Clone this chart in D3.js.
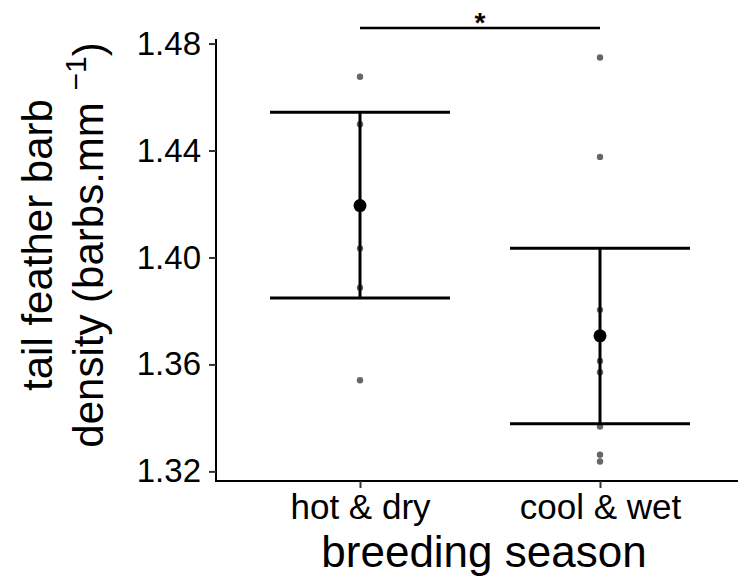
<!DOCTYPE html>
<html>
<head>
<meta charset="utf-8">
<script src="https://cdn.jsdelivr.net/npm/d3@7"></script>
<style>
    body { margin: 0; background: #fff; }
    text { font-family: "Liberation Sans", Arial, sans-serif; fill: #000; }
</style>
</head>
<body>
<svg id="chart" width="738" height="583"></svg>
<script>
var seasons = ["hot & dry", "cool & wet"];
var hotDryPoints = [1.4676, 1.4498, 1.4034, 1.3887, 1.3541];
var coolWetPoints = [1.4748, 1.4376, 1.3804, 1.3613, 1.3571, 1.3368, 1.3262, 1.3237];
var means = [1.4194, 1.3707];
var upper = [1.4543, 1.4034];
var lower = [1.3848, 1.3378];
var yTicks = [1.32, 1.36, 1.40, 1.44, 1.48];

var svg = d3.select("#chart"),
    panelLeft = 216, panelRight = 744, panelTop = 39, panelBottom = 481;

var x = d3.scalePoint()
    .domain(seasons)
    .range([panelLeft, panelRight])
    .padding(0.6);

var y = d3.scaleLinear()
    .domain([1.3164, 1.4817])
    .range([panelBottom, panelTop]);

var halfWidth = x.step() * 0.375;

var points = [];
hotDryPoints.forEach(function(v) { points.push({season: seasons[0], value: v}); });
coolWetPoints.forEach(function(v) { points.push({season: seasons[1], value: v}); });

var summary = seasons.map(function(s, i) {
    return {season: s, mean: means[i], hi: upper[i], lo: lower[i]};
});

// axes
var yAxis = svg.append("g")
    .attr("transform", "translate(" + panelLeft + ",0)")
    .call(d3.axisLeft(y).tickValues(yTicks).tickSize(7).tickPadding(8).tickFormat(d3.format(".2f")));

var xAxis = svg.append("g")
    .attr("transform", "translate(0," + panelBottom + ")")
    .call(d3.axisBottom(x).tickSize(7).tickPadding(6));

[yAxis, xAxis].forEach(function(ax) {
    ax.select(".domain").attr("stroke", "#000").attr("stroke-width", 2);
    ax.selectAll(".tick line").attr("stroke", "#333").attr("stroke-width", 2);
    ax.selectAll(".tick text").attr("fill", "#000");
});
yAxis.selectAll(".tick text").style("font-size", "33px");
xAxis.selectAll(".tick text").style("font-size", "35px");

// make axis lines meet at the corner
yAxis.select(".domain").attr("d", "M0," + panelTop + "V" + (panelBottom + 1));
xAxis.select(".domain").attr("d", "M" + (panelLeft - 1) + ",0H" + panelRight);

// error bars
var bars = svg.append("g");

bars.selectAll(".whisker")
    .data(summary)
    .enter().append("line")
    .attr("x1", function(d) { return x(d.season); })
    .attr("x2", function(d) { return x(d.season); })
    .attr("y1", function(d) { return y(d.hi); })
    .attr("y2", function(d) { return y(d.lo); })
    .attr("stroke", "#000")
    .attr("stroke-width", 3);

bars.selectAll(".cap")
    .data(summary.flatMap(function(d) { return [{season: d.season, v: d.hi}, {season: d.season, v: d.lo}]; }))
    .enter().append("line")
    .attr("x1", function(d) { return x(d.season) - halfWidth; })
    .attr("x2", function(d) { return x(d.season) + halfWidth; })
    .attr("y1", function(d) { return y(d.v); })
    .attr("y2", function(d) { return y(d.v); })
    .attr("stroke", "#000")
    .attr("stroke-width", 3);

// raw points
svg.append("g")
    .selectAll("circle")
    .data(points)
    .enter().append("circle")
    .attr("cx", function(d) { return x(d.season); })
    .attr("cy", function(d) { return y(d.value); })
    .attr("r", 3.2)
    .attr("fill", "#000")
    .attr("fill-opacity", 0.6);

// means
svg.append("g")
    .selectAll("circle")
    .data(summary)
    .enter().append("circle")
    .attr("cx", function(d) { return x(d.season); })
    .attr("cy", function(d) { return y(d.mean); })
    .attr("r", 6.5)
    .attr("fill", "#000");

// significance bracket
svg.append("line")
    .attr("x1", x(seasons[0]))
    .attr("x2", x(seasons[1]))
    .attr("y1", 28)
    .attr("y2", 28)
    .attr("stroke", "#000")
    .attr("stroke-width", 2.5);

svg.append("text")
    .attr("x", (x(seasons[0]) + x(seasons[1])) / 2)
    .attr("y", 32)
    .attr("text-anchor", "middle")
    .style("font-size", "28px")
    .style("font-weight", "bold")
    .text("*");

// axis titles
svg.append("text")
    .attr("x", 484)
    .attr("y", 567)
    .attr("text-anchor", "middle")
    .style("font-size", "44px")
    .text("breeding season");

var yTitle = svg.append("text")
    .attr("transform", "translate(0,245) rotate(-90)")
    .attr("text-anchor", "middle")
    .style("font-size", "42px");

yTitle.append("tspan")
    .attr("x", 0)
    .attr("y", 52)
    .text("tail feather barb");

var line2 = yTitle.append("tspan")
    .attr("x", 0)
    .attr("y", 103);
line2.append("tspan").text("density (barbs.mm ");
line2.append("tspan")
    .attr("dy", -17)
    .style("font-size", "30px")
    .text("\u22121");
line2.append("tspan")
    .attr("dy", 17)
    .text(")");
</script>
</body>
</html>
